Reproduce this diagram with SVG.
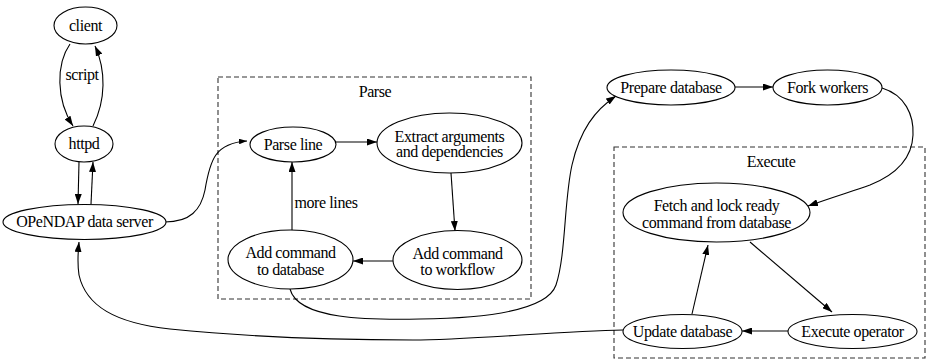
<svg xmlns="http://www.w3.org/2000/svg" width="928" height="360" viewBox="0 0 928 360">
<style>
  .n ellipse { fill: #ffffff; stroke: #000000; stroke-width: 1.1; }
  text { font-family: "Liberation Serif", "Times New Roman", serif; font-size: 16px; fill: #000000; text-anchor: middle; letter-spacing: -0.4px; }
  .e path { fill: none; stroke: #000000; stroke-width: 1.1; marker-end: url(#ah); }
  .e path.s { marker-end: url(#ahs); }
  .c { fill: none; stroke: #333333; stroke-width: 1.1; stroke-dasharray: 5 3; }
</style>
<defs>
  <marker id="ah" viewBox="0 0 10 7" refX="10" refY="3.5" markerWidth="10" markerHeight="7" markerUnits="userSpaceOnUse" orient="auto">
    <path d="M0,0 L10,3.5 L0,7 z" fill="#000000"/>
  </marker>
  <marker id="ahs" viewBox="0 0 10 7" refX="10" refY="3.5" markerWidth="8" markerHeight="5.6" markerUnits="userSpaceOnUse" orient="auto">
    <path d="M0,0 L10,3.5 L0,7 z" fill="#000000"/>
  </marker>
</defs>
<rect width="928" height="360" fill="#ffffff"/>

<g id="cluster-parse">
  <rect class="c" x="218" y="77" width="313" height="222"/>
  <text x="375" y="97">Parse</text>
</g>
<g id="cluster-execute">
  <rect class="c" x="614" y="147" width="311" height="211"/>
  <text x="771" y="167">Execute</text>
</g>

<g id="connectors" class="e">
  <path d="M70,44 C56,64 56,100 73,126"/>
  <path d="M93,126 C106,100 106,70 95,46"/>
  <path d="M79,162 L78,204"/>
  <path d="M91,204 L93,162"/>
  <path class="s" d="M165,222 C190,222 201,210 205,190 C210,160 215,143 247,141"/>
  <path d="M336,142 L377,142"/>
  <path d="M451,173 L455,231"/>
  <path d="M393,261 L353,261"/>
  <path d="M292,230 L292,162"/>
  <path d="M290,289 C298,320 370,320 420,319 C500,318 548,308 556,285 C566,255 564,200 572,165 C580,130 595,110 616,96"/>
  <path d="M735,87 L773,87"/>
  <path d="M882,88 C905,95 914,115 913,135 C912,160 895,175 870,185 C850,192 830,198 808,206"/>
  <path d="M750,242 L832,312"/>
  <path d="M692,314 L708,245"/>
  <path d="M788,331 L742,331"/>
  <path d="M623,330 C560,331 470,340 413,340 C340,340 250,337 170,329 C115,323 86,306 79,275 C77,262 78,252 79,242"/>
  <text x="82" y="80">script</text>
  <text x="326" y="208">more lines</text>
</g>

<g id="client" class="n">
  <ellipse cx="85.5" cy="25.5" rx="31.5" ry="18.5"/>
  <text x="85.5" y="30.5">client</text>
</g>
<g id="httpd" class="n">
  <ellipse cx="84" cy="144" rx="29" ry="18"/>
  <text x="84" y="149">httpd</text>
</g>
<g id="opendap" class="n">
  <ellipse cx="84.5" cy="222" rx="81.5" ry="17.5"/>
  <text x="84.5" y="227">OPeNDAP data server</text>
</g>
<g id="parse-line" class="n">
  <ellipse cx="293" cy="144.5" rx="43" ry="17.5"/>
  <text x="293" y="149.5">Parse line</text>
</g>
<g id="extract" class="n">
  <ellipse cx="449.5" cy="143" rx="72.5" ry="30"/>
  <text x="449.5" y="141.5">Extract arguments</text>
  <text x="449.5" y="157">and dependencies</text>
</g>
<g id="add-workflow" class="n">
  <ellipse cx="457.5" cy="260" rx="64.5" ry="29.5"/>
  <text x="457.5" y="258.5">Add command</text>
  <text x="457.5" y="275">to workflow</text>
</g>
<g id="add-database" class="n">
  <ellipse cx="290.5" cy="259.5" rx="62.5" ry="29.5"/>
  <text x="290.5" y="258">Add command</text>
  <text x="290.5" y="274.5">to database</text>
</g>
<g id="prepare" class="n">
  <ellipse cx="671" cy="87.5" rx="64" ry="17.5"/>
  <text x="671" y="92.5">Prepare database</text>
</g>
<g id="fork" class="n">
  <ellipse cx="827.5" cy="87.5" rx="54.5" ry="17.5"/>
  <text x="827.5" y="92.5">Fork workers</text>
</g>
<g id="fetch" class="n">
  <ellipse cx="716.5" cy="212.5" rx="93.5" ry="29.5"/>
  <text x="716.5" y="211">Fetch and lock ready</text>
  <text x="716.5" y="227.5">command from database</text>
</g>
<g id="update" class="n">
  <ellipse cx="682.5" cy="331.5" rx="59.5" ry="17"/>
  <text x="682.5" y="336.5">Update database</text>
</g>
<g id="execute-op" class="n">
  <ellipse cx="852.5" cy="331.5" rx="64.5" ry="17"/>
  <text x="852.5" y="336.5">Execute operator</text>
</g>
</svg>
